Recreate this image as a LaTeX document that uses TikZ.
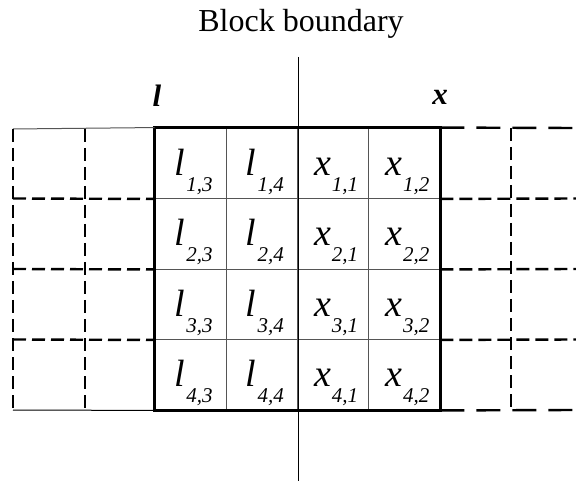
\documentclass[tikz,border=0pt]{standalone}
\usepackage{fontspec}
\setmainfont{Liberation Serif}[
  ItalicFont=Liberation Serif Italic,
  BoldFont=Liberation Serif Bold,
  BoldItalicFont=Liberation Serif Bold Italic]
\usepackage{xcolor}
\definecolor{cGrid}{HTML}{555555}
\usetikzlibrary{positioning}

% entry: letter with a lowered index pair
\newcommand{\entry}[3]{{\fontsize{38}{38}\selectfont\itshape #1}\kern1pt%
  \lower16pt\hbox{\fontsize{21}{21}\selectfont\itshape #2,#3}}

\begin{document}
\begin{tikzpicture}[x=1pt, y=-1pt,
    cellbox/.style={draw=cGrid, line width=0.9pt, minimum width=71.25pt,
                    minimum height=70.5pt, inner sep=0pt},
    lab/.style={anchor=base, inner sep=0pt},
    head/.style={anchor=base, inner sep=0pt,
                 font=\fontsize{31}{31}\selectfont\bfseries\itshape},
    outer/.style={line width=3pt, line cap=rect},
    shortdash/.style={line width=2.4pt, dash pattern=on 13pt off 6pt},
    longdash/.style={line width=2.4pt, dash pattern=on 24pt off 12pt},
    thin/.style={line width=1pt}
]
\useasboundingbox (0,0) rectangle (576,481);

\node[anchor=base, inner sep=0pt, font=\fontsize{32}{32}\selectfont]
    (title) at (301,32) {Block boundary};

% the four columns inside the block
\foreach \r in {1,...,4} {
  \foreach \c/\name/\idx in {1/l/3, 2/l/4, 3/x/1, 4/x/2} {
    \node[cellbox] (cell-\r-\c) at ({155+71.25*(\c-0.5)},{128+70.5*(\r-0.5)}) {};
    \node[lab] (lab-\r-\c) at ([xshift=3pt, yshift=-12pt]cell-\r-\c.center)
        {\entry{\name}{\r}{\idx}};
  }
}

% block frame
\draw[outer] (cell-1-1.north west) rectangle (cell-4-4.south east);

% boundary between the blocks
\coordinate (btop) at (298,57);
\coordinate (bbot) at (298,481);
\draw[thin] (btop) -- (bbot);

\node[head] (hl) at (157,107) {l};
\node[head] (hx) at (440,105) {x};

% neighbour on the left
\coordinate (lnw) at (13,129);
\coordinate (lmn) at (85,129);
\coordinate (lsw) at (13,410);
\coordinate (lms) at (85,410);
\draw[thin, cGrid] (lnw) -- (cell-1-1.north west);
\draw[thin] (lsw) -- (cell-4-1.south west);
\draw[shortdash] (lnw) -- (lsw);
\draw[shortdash] (lmn) -- (lms);
\foreach \r in {1,2,3}
  \draw[shortdash] (13,{128+70.5*\r}) -- (cell-\r-1.south west);

% neighbour on the right
\coordinate (rne) at (576,128);
\coordinate (rse) at (576,410);
\coordinate (rmn) at (511,128);
\coordinate (rms) at (511,410);
\draw[longdash] (cell-1-4.north east) -- (rne);
\draw[longdash] (cell-4-4.south east) -- (rse);
\draw[shortdash] (rmn) -- (rms);
\foreach \r in {1,2,3}
  \draw[shortdash] (cell-\r-4.south east) -- (576,{128+70.5*\r});
\end{tikzpicture}
\end{document}
